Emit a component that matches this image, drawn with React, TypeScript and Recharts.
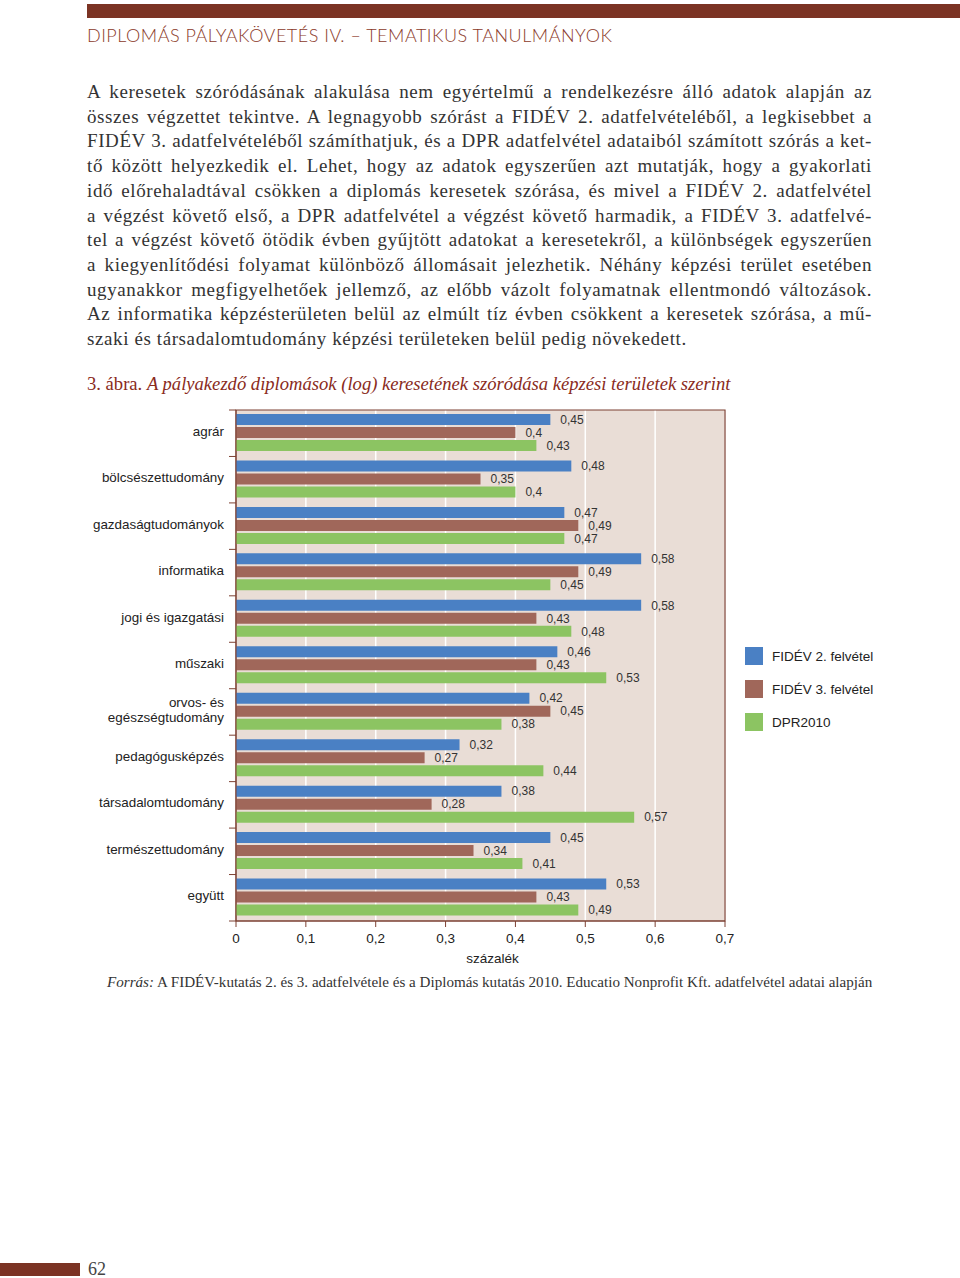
import { BarChart, Bar, XAxis, YAxis, CartesianGrid, ReferenceArea, LabelList } from "recharts";

// képzési területek (felülről lefelé)
const categories = [
  "agrár",
  "bölcsészettudomány",
  "gazdaságtudományok",
  "informatika",
  "jogi és igazgatási",
  "műszaki",
  "orvos- és\negészségtudomány",
  "pedagógusképzés",
  "társadalomtudomány",
  "természettudomány",
  "együtt",
];
const fidev2 = [0.45, 0.48, 0.47, 0.58, 0.58, 0.46, 0.42, 0.32, 0.38, 0.45, 0.53];
const fidev3 = [0.4, 0.35, 0.49, 0.49, 0.43, 0.43, 0.45, 0.27, 0.28, 0.34, 0.43];
const dpr2010 = [0.43, 0.4, 0.47, 0.45, 0.48, 0.53, 0.38, 0.44, 0.57, 0.41, 0.49];
const xTicks = [0, 0.1, 0.2, 0.3, 0.4, 0.5, 0.6, 0.7];

const seriesNames = ["FIDÉV 2. felvétel", "FIDÉV 3. felvétel", "DPR2010"];

const paragraphLines = [
  "A keresetek szóródásának alakulása nem egyértelmű a rendelkezésre álló adatok alapján az",
  "összes végzettet tekintve. A legnagyobb szórást a FIDÉV 2. adatfelvételéből, a legkisebbet a",
  "FIDÉV 3. adatfelvételéből számíthatjuk, és a DPR adatfelvétel adataiból számított szórás a ket-",
  "tő között helyezkedik el. Lehet, hogy az adatok egyszerűen azt mutatják, hogy a gyakorlati",
  "idő előrehaladtával csökken a diplomás keresetek szórása, és mivel a FIDÉV 2. adatfelvétel",
  "a végzést követő első, a DPR adatfelvétel a végzést követő harmadik, a FIDÉV 3. adatfelvé-",
  "tel a végzést követő ötödik évben gyűjtött adatokat a keresetekről, a különbségek egyszerűen",
  "a kiegyenlítődési folyamat különböző állomásait jelezhetik. Néhány képzési terület esetében",
  "ugyanakkor megfigyelhetőek jellemző, az előbb vázolt folyamatnak ellentmondó változások.",
  "Az informatika képzésterületen belül az elmúlt tíz évben csökkent a keresetek szórása, a mű-",
  "szaki és társadalomtudomány képzési területeken belül pedig növekedett.",
];

const data = categories.map((name, i) => ({
  name,
  f2: fidev2[i],
  f3: fidev3[i],
  dpr: dpr2010[i],
}));

const BLUE = "#4a80c4";
const BROWN = "#a0675a";
const GREEN = "#8cc462";
const AXIS = "#7d4032";
const DARK_RED = "#7b3324";
const PLOT_BG = "#e9ddd6";
const SANS = "'Liberation Sans', Arial, sans-serif";
const SERIF = "'Liberation Serif', 'Times New Roman', serif";

const PLOT_H = 511;
const BAND = PLOT_H / categories.length;

const comma = (v: any) => String(v).replace(".", ",");

function CatTick(props: any) {
  const { x, y, payload, index } = props;
  const lines = String(payload.value).split("\n");
  const first = ((1 - lines.length) / 2) * 15 + 4.5;
  return (
    <g>
      <line x1={x + 5} x2={x + 12} y1={y - BAND / 2} y2={y - BAND / 2} stroke={AXIS} />
      {index === categories.length - 1 && (
        <line x1={x + 5} x2={x + 12} y1={y + BAND / 2} y2={y + BAND / 2} stroke={AXIS} />
      )}
      <text x={x} y={y - 2} textAnchor="end" fontSize={13.4} fill="#222" fontFamily={SANS}>
        {lines.map((l, i) => (
          <tspan key={i} x={x} dy={i === 0 ? first : 15}>
            {l}
          </tspan>
        ))}
      </text>
    </g>
  );
}

const labelStyle = { fontSize: 12, fill: "#333", fontFamily: SANS };

export default function App() {
  return (
    <div
      style={{
        position: "absolute",
        left: 0,
        top: 0,
        width: 960,
        height: 1278,
        background: "#fff",
        overflow: "hidden",
      }}
    >
      {/* fejléc */}
      <div style={{ position: "absolute", left: 87, top: 4, width: 873, height: 14, background: DARK_RED }} />
      <div
        style={{
          position: "absolute",
          left: 87,
          top: 24,
          fontFamily: "Lato, 'Open Sans', sans-serif",
          fontWeight: 300,
          fontSize: 18,
          letterSpacing: 0.5,
          lineHeight: "22px",
          color: "#8b3a2a",
          whiteSpace: "nowrap",
        }}
      >
        DIPLOMÁS PÁLYAKÖVETÉS IV. – TEMATIKUS TANULMÁNYOK
      </div>

      {/* szöveg */}
      <div
        style={{
          position: "absolute",
          left: 87,
          top: 80,
          width: 785,
          fontFamily: SERIF,
          fontSize: 19,
          letterSpacing: 0.6,
          lineHeight: "24.7px",
          color: "#333",
        }}
      >
        {paragraphLines.map((line, i) => (
          <div
            key={i}
            style={{
              whiteSpace: "nowrap",
              textAlign: i === paragraphLines.length - 1 ? "left" : "justify",
              textAlignLast: i === paragraphLines.length - 1 ? "left" : "justify",
            }}
          >
            {line}
          </div>
        ))}
      </div>

      {/* ábra cím */}
      <div
        style={{
          position: "absolute",
          left: 87,
          top: 372,
          fontFamily: SERIF,
          fontSize: 18.6,
          lineHeight: "24px",
          color: "#8a2b1c",
          whiteSpace: "nowrap",
        }}
      >
        3. ábra. <i>A pályakezdő diplomások (log) keresetének szóródása képzési területek szerint</i>
      </div>

      <div style={{ position: "absolute", left: 80, top: 400 }}>
        <BarChart
          width={660}
          height={571}
          data={data}
          layout="vertical"
          margin={{ top: 10, right: 15, left: 0, bottom: 6 }}
          barCategoryGap={4}
          barGap={2}
        >
          <CartesianGrid horizontal={false} vertical fill={PLOT_BG} stroke="#fff" strokeWidth={1.5} />
          <XAxis
            type="number"
            domain={[0, 0.7]}
            ticks={xTicks}
            tickFormatter={comma}
            tick={{ fontSize: 13.5, fill: "#222", fontFamily: SANS }}
            stroke={AXIS}
            tickSize={6}
            tickMargin={6}
            height={44}
            label={{
              value: "százalék",
              position: "insideBottom",
              dx: 12,
              offset: 2,
              style: { fontSize: 13.5, fill: "#222", fontFamily: SANS },
            }}
          />
          <YAxis
            type="category"
            dataKey="name"
            width={156}
            stroke={AXIS}
            tickLine={false}
            tickSize={0}
            tickMargin={12}
            interval={0}
            tick={<CatTick />}
          />
          <ReferenceArea x1={0} x2={0.7} fill="none" stroke={AXIS} strokeWidth={1.2} ifOverflow="visible" />
          <Bar dataKey="f2" name={seriesNames[0]} fill={BLUE} isAnimationActive={false}>
            <LabelList dataKey="f2" position="right" offset={10} formatter={comma} style={labelStyle} />
          </Bar>
          <Bar dataKey="f3" name={seriesNames[1]} fill={BROWN} isAnimationActive={false}>
            <LabelList dataKey="f3" position="right" offset={10} formatter={comma} style={labelStyle} />
          </Bar>
          <Bar dataKey="dpr" name={seriesNames[2]} fill={GREEN} isAnimationActive={false}>
            <LabelList dataKey="dpr" position="right" offset={10} formatter={comma} style={labelStyle} />
          </Bar>
        </BarChart>
      </div>

      {/* jelmagyarázat */}
      {seriesNames.map((n, i) => (
        <div
          key={n}
          style={{
            position: "absolute",
            left: 745,
            top: 647 + i * 33,
            display: "flex",
            alignItems: "center",
            fontFamily: SANS,
            fontSize: 13.5,
            color: "#222",
            whiteSpace: "nowrap",
          }}
        >
          <span
            style={{
              display: "inline-block",
              width: 18,
              height: 18,
              marginRight: 9,
              background: [BLUE, BROWN, GREEN][i],
            }}
          />
          {n}
        </div>
      ))}

      {/* forrás */}
      <div
        style={{
          position: "absolute",
          left: 107,
          top: 972,
          fontFamily: SERIF,
          fontSize: 15.1,
          lineHeight: "20px",
          color: "#333",
          whiteSpace: "nowrap",
        }}
      >
        <i>Forrás:</i> A FIDÉV-kutatás 2. és 3. adatfelvétele és a Diplomás kutatás 2010. Educatio Nonprofit Kft. adatfelvétel adatai alapján
      </div>

      {/* oldalszám */}
      <div style={{ position: "absolute", left: 0, top: 1263, width: 80, height: 13, background: DARK_RED }} />
      <div
        style={{
          position: "absolute",
          left: 88,
          top: 1260,
          fontFamily: SERIF,
          fontSize: 18,
          lineHeight: "18px",
          color: "#444",
        }}
      >
        62
      </div>
    </div>
  );
}
